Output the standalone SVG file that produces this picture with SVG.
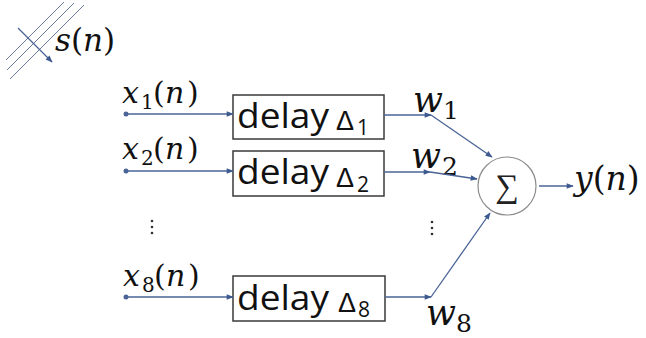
<svg xmlns="http://www.w3.org/2000/svg" width="646" height="338" viewBox="0 0 646 338">
<defs>
<marker id="ah" viewBox="0 0 10 10" refX="9" refY="5" markerWidth="8" markerHeight="7" markerUnits="userSpaceOnUse" orient="auto">
<path d="M0,1 L10,5 L0,9 z" fill="#3d5a8f"/>
</marker>
<style>
.ln{stroke:#4a6496;stroke-width:1.3;fill:none}
.ar{marker-end:url(#ah)}
.bx{fill:#fff;stroke:#3a3a3a;stroke-width:1.5}
.dl{font-family:"Open Sans","Liberation Sans",Arial,sans-serif;font-size:35px;fill:#111}
.dg{font-family:"Liberation Sans","DejaVu Sans",sans-serif;font-size:27px;fill:#111}
.ds{font-family:"Open Sans","Liberation Sans",sans-serif;font-size:21px;fill:#111}
.m{font-family:"DejaVu Serif","Liberation Serif",serif;font-size:30px;fill:#111}
.mi{font-style:italic}
.sub{font-size:20px}
.w{font-family:"DejaVu Serif","Liberation Serif",serif;font-size:35px;font-style:italic;fill:#111}
.wsub{font-family:"DejaVu Serif","Liberation Serif",serif;font-size:25px;fill:#111}
.dot{fill:#4a6496}
.vd{fill:#333}
</style>
</defs>
<rect width="646" height="338" fill="#fff"/>

<g id="wavefront">
<line x1="6" y1="60" x2="64" y2="2" stroke="#6b7ba0" stroke-width="1"/>
<line x1="7" y1="70" x2="74" y2="3" stroke="#6b7ba0" stroke-width="1"/>
<line x1="10" y1="79" x2="84" y2="5" stroke="#6b7ba0" stroke-width="1"/>
</g>
<g id="s_label">
<text class="m" x="55" y="51" style="font-size:31px"><tspan class="mi">s</tspan>(<tspan class="mi">n</tspan>)</text>
</g>

<g id="in1">
<text class="m" y="103"><tspan class="mi" x="122">x</tspan><tspan class="sub" x="141" dy="6">1</tspan><tspan x="153" dy="-6">(</tspan><tspan class="mi" x="165">n</tspan><tspan x="187">)</tspan></text>
<circle class="dot" cx="126" cy="114" r="2.5"/>
</g>
<g id="in2">
<text class="m" y="159"><tspan class="mi" x="122">x</tspan><tspan class="sub" x="141" dy="6">2</tspan><tspan x="153" dy="-6">(</tspan><tspan class="mi" x="165">n</tspan><tspan x="187">)</tspan></text>
<circle class="dot" cx="126" cy="171" r="2.5"/>
</g>
<g id="in8">
<text class="m" y="286"><tspan class="mi" x="123">x</tspan><tspan class="sub" x="142" dy="6">8</tspan><tspan x="154" dy="-6">(</tspan><tspan class="mi" x="166">n</tspan><tspan x="188">)</tspan></text>
<circle class="dot" cx="126" cy="297" r="2.5"/>
</g>

<g id="delay1">
<rect class="bx" x="233" y="95" width="151" height="44"/>
<text class="dl" x="237" y="128" textLength="92" lengthAdjust="spacingAndGlyphs">delay</text>
<text class="dg" x="336" y="130">Δ</text>
<text class="ds" x="357" y="135">1</text>
</g>
<g id="delay2">
<rect class="bx" x="233" y="151" width="151" height="45"/>
<text class="dl" x="237" y="184" textLength="92" lengthAdjust="spacingAndGlyphs">delay</text>
<text class="dg" x="336" y="187">Δ</text>
<text class="ds" x="357" y="192">2</text>
</g>
<g id="delay8">
<rect class="bx" x="233" y="276" width="152" height="45"/>
<text class="dl" x="237" y="310" textLength="92" lengthAdjust="spacingAndGlyphs">delay</text>
<text class="dg" x="338" y="312">Δ</text>
<text class="ds" x="358" y="317">8</text>
</g>

<g id="w1"><text class="w" x="413" y="112">w</text><text class="wsub" x="443" y="119">1</text></g>
<g id="w2"><text class="w" x="411" y="168">w</text><text class="wsub" x="442" y="175">2</text></g>
<g id="w8"><text class="w" x="426" y="325">w</text><text class="wsub" x="456" y="332">8</text></g>

<g id="sum">
<circle cx="507" cy="186" r="29" fill="#fff" stroke="#8c8c8c" stroke-width="1.2"/>
<text x="507" y="197" text-anchor="middle" style="font-family:'Liberation Serif','DejaVu Serif',serif;font-size:33px;fill:#222">∑</text>
</g>

<g id="output"><text class="m" x="574" y="190" style="font-size:33px"><tspan class="mi">y</tspan>(<tspan class="mi">n</tspan>)</text></g>

<g id="dots_left"><circle class="vd" cx="152" cy="221" r="1.3"/><circle class="vd" cx="152" cy="227" r="1.3"/><circle class="vd" cx="152" cy="233" r="1.3"/></g>
<g id="dots_right"><circle class="vd" cx="432" cy="222" r="1.3"/><circle class="vd" cx="432" cy="228" r="1.3"/><circle class="vd" cx="432" cy="234" r="1.3"/></g>

<g id="connectors">
<line class="ln ar" x1="18" y1="28" x2="52" y2="62"/>
<line class="ln ar" x1="126" y1="114" x2="233" y2="114"/>
<line class="ln ar" x1="126" y1="171" x2="233" y2="171"/>
<line class="ln ar" x1="126" y1="297" x2="233" y2="297"/>
<line class="ln ar" x1="384" y1="115" x2="431" y2="115"/>
<line class="ln ar" x1="384" y1="172" x2="430" y2="172"/>
<line class="ln ar" x1="385" y1="297" x2="431" y2="297"/>
<line class="ln ar" x1="431" y1="115" x2="492" y2="157"/>
<line class="ln ar" x1="430" y1="172" x2="477" y2="179"/>
<line class="ln ar" x1="431" y1="297" x2="490" y2="213"/>
<line class="ln ar" x1="539" y1="186" x2="573" y2="186"/>
</g>
</svg>
